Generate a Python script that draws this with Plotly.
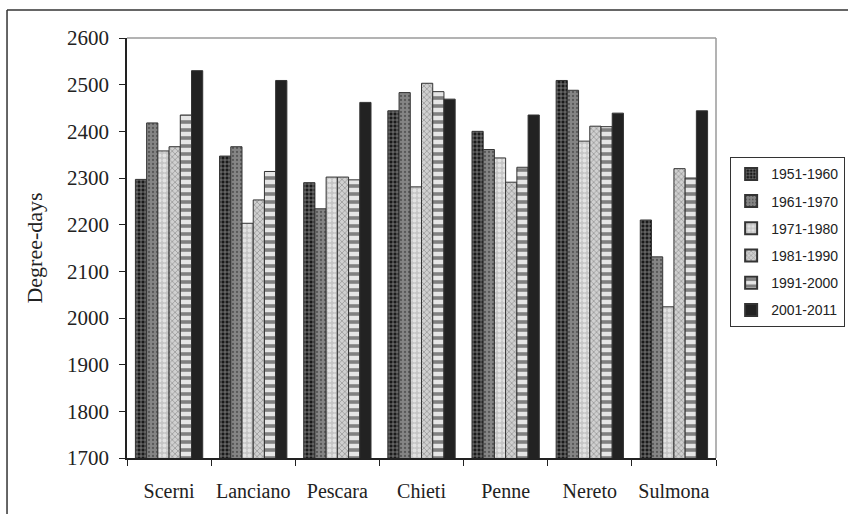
import plotly.graph_objects as go

stations = ["Scerni", "Lanciano", "Pescara", "Chieti", "Penne", "Nereto", "Sulmona"]
periods = ["1951-1960", "1961-1970", "1971-1980", "1981-1990", "1991-2000", "2001-2011"]

dd_1951_1960 = [2297, 2347, 2290, 2444, 2400, 2509, 2210]
dd_1961_1970 = [2418, 2367, 2234, 2483, 2361, 2488, 2131]
dd_1971_1980 = [2358, 2203, 2302, 2281, 2343, 2379, 2024]
dd_1981_1990 = [2367, 2253, 2302, 2503, 2291, 2411, 2320]
dd_1991_2000 = [2435, 2314, 2296, 2485, 2323, 2410, 2300]
dd_2001_2011 = [2530, 2509, 2462, 2469, 2435, 2439, 2444]

series = [dd_1951_1960, dd_1961_1970, dd_1971_1980, dd_1981_1990, dd_1991_2000, dd_2001_2011]

y_ticks = [1700, 1800, 1900, 2000, 2100, 2200, 2300, 2400, 2500, 2600]

# black-and-white fill patterns, one per decade
patterns = [
    dict(shape="+", bgcolor="#1a1a1a", fgcolor="#ffffff", size=4, solidity=0.35),
    dict(shape=".", bgcolor="#858585", fgcolor="#2a2a2a", size=4, solidity=0.25),
    dict(shape=".", bgcolor="#c4c4c4", fgcolor="#ffffff", size=5, solidity=0.5),
    dict(shape="x", bgcolor="#d0d0d0", fgcolor="#707070", size=4, solidity=0.4),
    dict(shape="-", bgcolor="#e6e6e6", fgcolor="#1a1a1a", size=8, solidity=0.45),
    dict(shape="", bgcolor="#222222", fgcolor="#222222"),
]

fig = go.Figure()
for name, vals, pat in zip(periods, series, patterns):
    color = "#222222" if pat["shape"] == "" else pat["bgcolor"]
    fig.add_trace(go.Bar(
        x=stations, y=vals, name=name, legendgroup=name,
        marker=dict(color=color, pattern=pat,
                    line=dict(color="#333333", width=1)),
    ))

fig.update_layout(
    width=848, height=514,
    margin=dict(l=127, r=132, t=38, b=56, autoexpand=False),
    paper_bgcolor="white", plot_bgcolor="white",
    barmode="group", bargap=0.2, bargroupgap=0,
    font=dict(family="Liberation Serif", color="#222222"),
    showlegend=True,
    legend=dict(
        xref="container", yref="container",
        x=0.861, y=0.694, xanchor="left", yanchor="top",
        bordercolor="#333333", borderwidth=1,
        font=dict(family="Liberation Sans", size=14, color="#222222"),
        tracegroupgap=6, itemsizing="constant", itemwidth=30,
    ),
    shapes=[
        # plot-area frame (top and right edges)
        dict(type="line", xref="paper", yref="paper", x0=0, x1=1, y0=1, y1=1,
             line=dict(color="#9a9a9a", width=1.5)),
        dict(type="line", xref="paper", yref="paper", x0=1, x1=1, y0=0, y1=1,
             line=dict(color="#9a9a9a", width=1.5)),
        # outer chart border
        dict(type="line", xref="paper", yref="paper", x0=-0.2037, x1=1.3, y0=1.0667, y1=1.0667,
             line=dict(color="#333333", width=1.5)),
        dict(type="line", xref="paper", yref="paper", x0=-0.2037, x1=-0.2037, y0=-0.2, y1=1.0667,
             line=dict(color="#333333", width=1.5)),
    ],
)

fig.update_xaxes(
    showline=True, linecolor="#222222", linewidth=1.5,
    ticks="outside", ticklen=6, tickcolor="#222222", tickson="boundaries",
    tickangle=0, automargin=False, ticklabelstandoff=14,
    tickfont=dict(family="Liberation Serif", size=20, color="#222222"),
    showgrid=False,
)
fig.update_yaxes(
    range=[1700, 2600], tickvals=y_ticks,
    showline=True, linecolor="#222222", linewidth=1.5,
    ticks="outside", ticklen=6, tickcolor="#222222",
    automargin=False, ticklabelstandoff=6,
    tickfont=dict(family="Liberation Serif", size=21, color="#222222"),
    showgrid=False, zeroline=False,
    title=dict(text="Degree-days", font=dict(family="Liberation Serif", size=22, color="#222222"),
               standoff=18),
)

fig.write_html("out.html")
